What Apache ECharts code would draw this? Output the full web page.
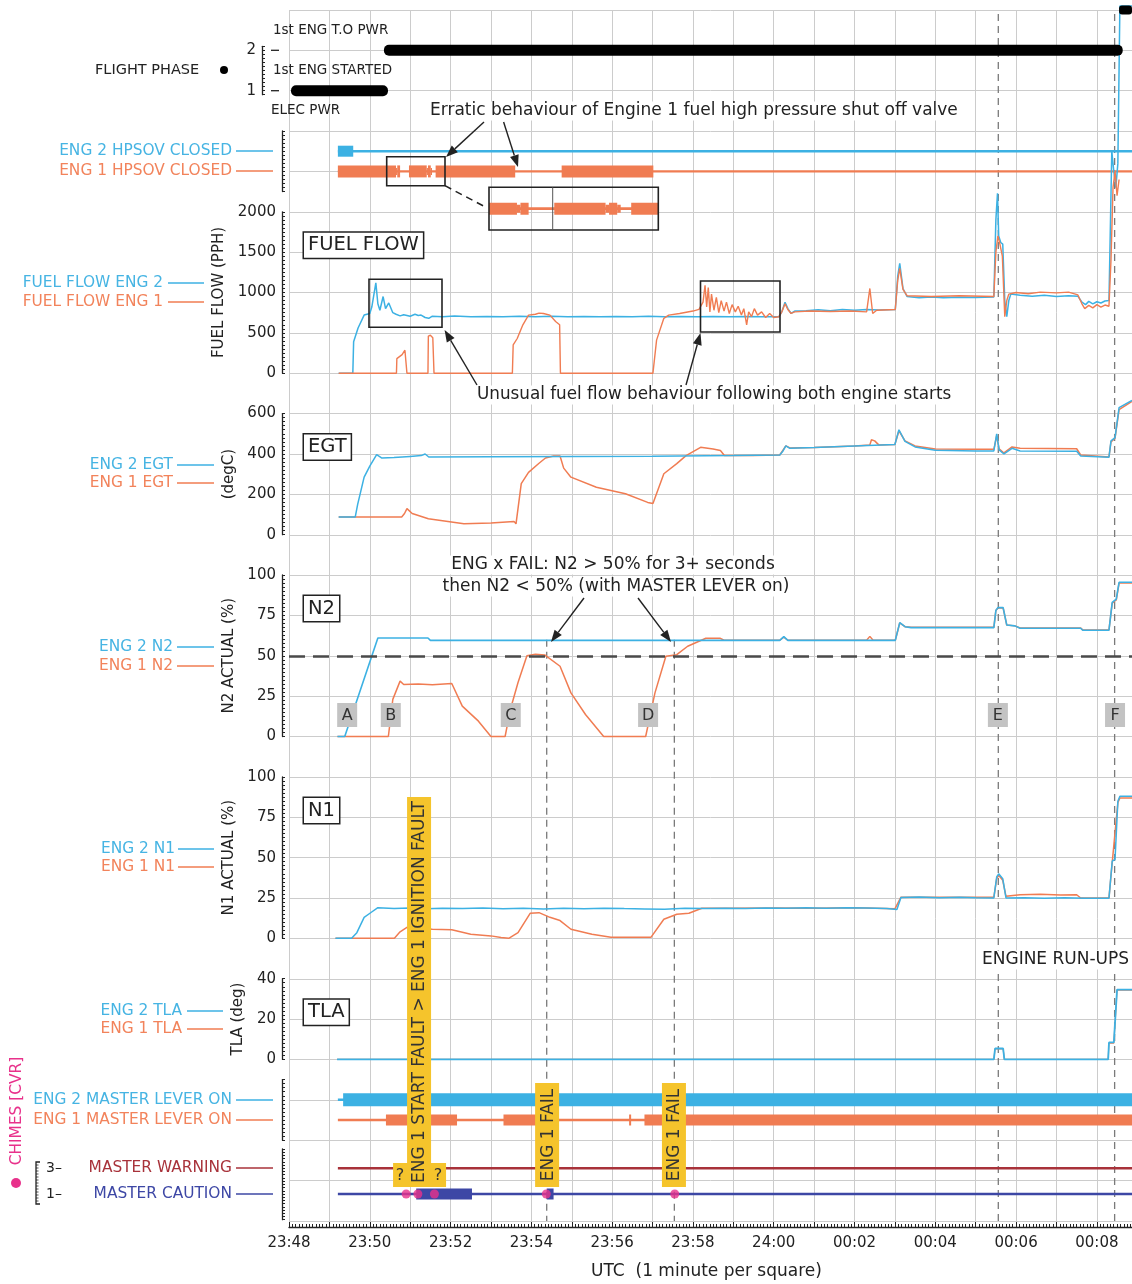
<!DOCTYPE html>
<html>
<head>
<meta charset="utf-8">
<script src="https://cdn.jsdelivr.net/npm/echarts@6.0.0/dist/echarts.min.js"></script>
<style>
  html, body { margin: 0; padding: 0; background: #fff; }
  #main { width: 1132px; height: 1284px; }
</style>
</head>
<body>
<div id="main"></div>
<script>
// time is in minutes after 23:48 UTC (1 minute per square)
const X_MAX = 20.87
const timeLabels = ['23:48', '23:50', '23:52', '23:54', '23:56', '23:58', '24:00', '00:02', '00:04', '00:06', '00:08']

// discrete tracks: [start, end] in minutes
const flightPhase = [[0.05, 2.45, 1], [2.35, 20.64, 2], [20.55, 20.87, 3]]
const trackSpan = [1.21, X_MAX]
const eng2HpsovClosed = [[1.21, 1.59]]
const eng1HpsovClosed = [[1.21, 2.65], [2.68, 2.75], [2.97, 3.41], [3.44, 3.51], [3.63, 5.6], [6.75, 9.02]]
const eng1HpsovPartial = [[2.65, 2.68], [3.41, 3.44], [3.51, 3.54]]
const insetRange = [2.41, 3.86]
const eng2LeverOn = [[1.34, X_MAX]]
const eng1LeverOn = [[2.40, 4.16], [5.31, 6.40], [8.42, 8.47], [8.80, X_MAX]]
const cautionOn = [[3.15, 4.53], [6.38, 6.55]]
const chimeTimes = [2.90, 3.19, 3.60, 6.37, 9.55]

// event markers
const eventNames = ['A', 'B', 'C', 'D', 'E', 'F']
const eventTimes = [1.44, 2.52, 5.49, 8.89, 17.55, 20.45]
const failLineTimes = [6.38, 9.54]
const runupLineTimes = [17.56, 20.44]
const faultTimes = [3.22, 6.39, 9.53]
const faultTexts = ['ENG 1 START FAULT > ENG 1 IGNITION FAULT', 'ENG 1 FAIL', 'ENG 1 FAIL']

// fuel flow (PPH)
const fuelEng2 = [[1.23, 0], [1.58, 0], [1.60, 390], [1.71, 560], [1.86, 720], [2.00, 740], [2.05, 820], [2.15, 1120], [2.20, 860], [2.25, 780], [2.33, 950], [2.39, 800], [2.47, 870], [2.57, 750], [2.65, 730], [2.75, 710], [2.84, 725], [2.92, 715], [3.00, 705], [3.12, 730], [3.20, 715], [3.27, 720], [3.37, 690], [3.46, 680], [3.54, 705], [3.8, 700], [4.1, 708], [4.5, 700], [4.9, 704], [5.3, 698], [5.7, 705], [6.1, 700], [6.5, 706], [6.9, 700], [7.3, 703], [7.7, 698], [8.1, 704], [8.5, 700], [8.9, 705], [9.3, 700], [9.7, 704], [10.1, 700], [10.5, 702], [10.9, 698], [11.3, 703], [11.7, 699], [12.13, 700], [12.20, 760], [12.28, 880], [12.35, 800], [12.43, 740], [12.52, 770], [12.8, 775], [13.1, 785], [13.4, 775], [13.7, 790], [14.0, 780], [14.3, 788], [14.6, 782], [15.01, 790], [15.07, 1200], [15.12, 1360], [15.2, 1050], [15.3, 950], [15.6, 935], [15.9, 945], [16.2, 935], [16.6, 942], [17.0, 938], [17.45, 945], [17.50, 1900], [17.54, 2230], [17.57, 1700], [17.62, 1620], [17.67, 1600], [17.72, 900], [17.77, 700], [17.82, 900], [17.87, 980], [18.1, 965], [18.4, 955], [18.7, 965], [19.0, 950], [19.3, 960], [19.53, 955], [19.63, 880], [19.72, 850], [19.8, 890], [19.9, 860], [20.0, 885], [20.1, 870], [20.2, 895], [20.30, 900], [20.37, 2750], [20.42, 2500], [20.47, 2300], [20.52, 2600], [20.57, 4550], [20.87, 4550]]
const fuelEng1 = [[1.23, 0], [2.66, 0], [2.67, 180], [2.80, 230], [2.87, 285], [2.90, 280], [2.92, 0], [3.44, 0], [3.45, 460], [3.50, 470], [3.56, 440], [3.59, 0], [5.53, 0], [5.55, 350], [5.65, 430], [5.79, 600], [5.93, 720], [6.10, 730], [6.19, 745], [6.30, 740], [6.46, 720], [6.60, 640], [6.70, 600], [6.72, 0], [9.01, 0], [9.10, 410], [9.28, 680], [9.40, 720], [9.67, 740], [10.0, 770], [10.15, 790], [10.25, 880], [10.30, 1090], [10.34, 820], [10.38, 1060], [10.42, 760], [10.46, 980], [10.52, 780], [10.58, 940], [10.64, 750], [10.70, 900], [10.77, 770], [10.83, 880], [10.90, 740], [10.97, 850], [11.05, 760], [11.12, 830], [11.20, 720], [11.26, 800], [11.33, 600], [11.38, 760], [11.45, 700], [11.52, 800], [11.60, 720], [11.70, 760], [11.80, 690], [11.90, 740], [12.00, 690], [12.13, 700], [12.20, 760], [12.28, 860], [12.35, 790], [12.43, 740], [12.52, 760], [12.9, 770], [13.4, 765], [13.9, 770], [14.30, 760], [14.38, 1050], [14.45, 740], [14.55, 780], [15.01, 790], [15.07, 1150], [15.12, 1300], [15.2, 1040], [15.3, 960], [15.9, 950], [16.6, 960], [17.45, 950], [17.50, 1500], [17.55, 1700], [17.60, 1600], [17.66, 1450], [17.72, 700], [17.77, 900], [17.82, 980], [18.0, 1000], [18.3, 985], [18.6, 1005], [19.0, 995], [19.3, 1005], [19.53, 970], [19.63, 860], [19.7, 800], [19.8, 840], [19.9, 810], [20.0, 850], [20.1, 820], [20.2, 845], [20.30, 830], [20.35, 1400], [20.40, 2300], [20.45, 2500], [20.50, 2200], [20.55, 2400]]

// EGT (degC)
const egtEng2 = [[1.23, 88], [1.64, 88], [1.70, 150], [1.86, 285], [2.00, 340], [2.17, 397], [2.30, 380], [2.6, 382], [3.0, 388], [3.27, 392], [3.37, 400], [3.46, 385], [5.0, 386], [7.0, 387], [9.0, 389], [11.0, 392], [12.15, 395], [12.22, 412], [12.30, 440], [12.40, 428], [13.0, 432], [14.0, 440], [15.0, 447], [15.10, 520], [15.25, 462], [15.5, 435], [16.0, 418], [17.0, 415], [17.45, 415], [17.52, 500], [17.58, 420], [17.70, 400], [17.9, 428], [18.1, 415], [19.5, 413], [19.6, 390], [20.3, 384], [20.35, 465], [20.45, 481], [20.55, 630], [20.87, 665]]
const egtEng1 = [[1.23, 88], [2.79, 88], [2.86, 105], [2.92, 129], [3.05, 105], [3.45, 79], [4.33, 54], [5.0, 58], [5.57, 66], [5.62, 54], [5.75, 253], [5.93, 309], [6.19, 354], [6.35, 380], [6.55, 390], [6.71, 390], [6.80, 330], [6.98, 285], [7.61, 235], [8.33, 203], [8.88, 160], [9.01, 155], [9.28, 302], [9.60, 352], [9.83, 392], [10.19, 433], [10.5, 425], [10.68, 417], [10.78, 392], [11.5, 393], [12.15, 395], [12.30, 440], [12.40, 430], [13.0, 432], [14.0, 440], [14.38, 445], [14.42, 470], [14.5, 465], [14.6, 445], [15.0, 447], [15.10, 515], [15.25, 465], [15.5, 440], [16.0, 425], [17.0, 423], [17.45, 423], [17.52, 490], [17.58, 425], [17.70, 405], [17.9, 435], [18.1, 428], [19.5, 426], [19.6, 395], [20.3, 385], [20.35, 460], [20.45, 478], [20.55, 620], [20.87, 660]]

// N2 (%)
const n2Eng2 = [[1.2, 0], [1.38, 0], [2.20, 61], [3.44, 61], [3.50, 59.5], [12.15, 59.5], [12.25, 61.8], [12.35, 59.5], [15.01, 59.5], [15.12, 70.5], [15.25, 68], [15.4, 67.4], [17.45, 67.4], [17.50, 78], [17.55, 79.8], [17.68, 79.8], [17.77, 69], [17.97, 68.5], [18.1, 67], [19.6, 67], [19.65, 65.8], [20.30, 65.8], [20.38, 83], [20.48, 85], [20.55, 95.5], [20.87, 95.5]]
const n2Eng1 = [[1.2, 0], [2.46, 0], [2.57, 23], [2.75, 34.3], [2.84, 32.2], [3.2, 32.5], [3.55, 32], [4.03, 32.8], [4.29, 18.8], [4.69, 9.5], [5.0, 0], [5.35, 0], [5.48, 16.7], [5.67, 33.4], [5.89, 50], [6.1, 51], [6.33, 50.5], [6.71, 43.5], [6.98, 27], [7.34, 13.6], [7.79, 0], [8.83, 0], [9.06, 27], [9.33, 49.7], [9.60, 50.7], [9.87, 55.9], [10.32, 60.8], [10.68, 60.8], [10.77, 59.6], [12.15, 59.6], [12.25, 61.5], [12.35, 59.6], [14.3, 59.6], [14.38, 62], [14.46, 59.6], [15.01, 59.6], [15.12, 70.3], [15.25, 68], [15.4, 67.6], [17.45, 67.6], [17.50, 78], [17.55, 79.5], [17.68, 79.5], [17.77, 69], [17.97, 68.5], [18.1, 67.2], [19.6, 67.2], [19.65, 66], [20.30, 66], [20.38, 82.5], [20.48, 84.5], [20.55, 95], [20.87, 95]]

// N1 (%)
const n1Eng2 = [[1.15, 0], [1.55, 0], [1.68, 3.5], [1.86, 13], [2.03, 16], [2.20, 19], [2.6, 18.4], [3.0, 18.8], [3.4, 18.3], [3.8, 18.7], [4.3, 18.4], [4.8, 18.8], [5.3, 18.3], [5.8, 18.7], [6.3, 18.2], [6.8, 18.6], [7.3, 18.3], [7.8, 18.7], [8.3, 18.4], [8.8, 18.2], [9.3, 18.0], [9.8, 18.6], [10.3, 18.5], [10.8, 18.7], [11.3, 18.5], [11.8, 18.8], [12.3, 18.6], [12.8, 18.9], [13.3, 18.7], [13.8, 19.0], [14.3, 18.8], [14.8, 18.5], [15.05, 17.9], [15.15, 25.3], [15.6, 25.6], [16.1, 25.2], [16.6, 25.4], [17.0, 25.1], [17.45, 25], [17.52, 38], [17.57, 40], [17.62, 38.5], [17.67, 37], [17.75, 25], [18.2, 25.2], [18.7, 24.9], [19.2, 25.1], [19.7, 24.9], [20.30, 24.9], [20.38, 47.8], [20.45, 49], [20.52, 85], [20.57, 88], [20.87, 88]]
const n1Eng1 = [[1.15, 0], [2.61, 0], [2.75, 4], [2.92, 6.8], [3.1, 6.2], [3.55, 5.6], [4.03, 5.3], [4.5, 2.5], [5.0, 1.5], [5.25, 0.5], [5.44, 0], [5.67, 3.5], [5.97, 15.5], [6.19, 15.9], [6.46, 13], [6.71, 11], [6.98, 5.6], [7.5, 2.5], [7.97, 0.6], [8.96, 0.6], [9.28, 11.8], [9.6, 14.9], [9.9, 15.5], [10.22, 18.6], [11.0, 18.6], [12.0, 18.8], [13.0, 18.7], [14.0, 18.9], [15.0, 18.3], [15.15, 25.5], [17.45, 25.5], [17.52, 37], [17.57, 39], [17.67, 36], [17.75, 26], [18.1, 27], [18.6, 27.3], [19.1, 26.8], [19.5, 27], [19.6, 25], [20.30, 25], [20.38, 47], [20.52, 84], [20.57, 87], [20.87, 87]]

// TLA (deg)
const tlaEng2 = [[1.19, 0], [17.45, 0], [17.48, 5.4], [17.68, 5.4], [17.71, 0], [20.28, 0], [20.30, 8.4], [20.42, 8.4], [20.50, 34.6], [20.87, 34.6]]
const tlaEng1 = [[1.19, 0], [17.45, 0], [17.48, 5.2], [17.68, 5.2], [17.71, 0], [20.28, 0], [20.30, 8], [20.42, 8], [20.50, 34.3], [20.87, 34.3]]

const BLUE = '#3cb1e3'
const ORANGE = '#f07c52'
const BLUE_TXT = '#46b4e3'
const ORANGE_TXT = '#f2835b'
const INK = '#222222'
const WARN = '#a8323a'
const CAUTION = '#3d47a5'
const PINK = '#e8318b'
const YELLOW = '#f5c42c'
const FAMILY = 'DejaVu Sans'

const chart = echarts.init(document.getElementById('main'))

// panel layout (pixel boxes of each strip)
const gridBoxes = [
  { top: 10, height: 1211 },      // 0 background squares + time axis
  { top: 46.3, height: 48.4 },    // 1 flight phase
  { top: 131, height: 60.6 },     // 2 HPSOV
  { top: 211.8, height: 161.4 },  // 3 fuel flow
  { top: 413.6, height: 121.1 },  // 4 EGT
  { top: 575, height: 161.5 },    // 5 N2
  { top: 777, height: 161.3 },    // 6 N1
  { top: 978.7, height: 80.7 },   // 7 TLA
  { top: 1079.6, height: 60.6 },  // 8 master levers
  { top: 1149, height: 70.7 },    // 9 warning / caution
  { left: 489, top: 187.3, width: 169, height: 42.7 } // 10 HPSOV inset
]
const grids = gridBoxes.map(b => ({
  left: b.left || 289, top: b.top, height: b.height, width: b.width || 843,
  containLabel: false, outerBoundsMode: 'none'
}))

function isStep(v, step) {
  const k = v / step
  return Math.abs(k - Math.round(k)) < 1e-6
}

const xAxes = grids.map((g, i) => ({
  type: 'value', gridIndex: i,
  min: i === 10 ? insetRange[0] : 0,
  max: i === 10 ? insetRange[1] : X_MAX,
  show: false
}))
xAxes[0] = {
  type: 'value', gridIndex: 0, min: 0, max: X_MAX, interval: 1, position: 'bottom', offset: 6,
  axisLine: { show: true, onZero: false, lineStyle: { color: INK, width: 1.3 } },
  axisTick: { show: true, inside: true, length: 5, lineStyle: { color: INK } },
  minorTick: { show: true, splitNumber: 12, length: 3, lineStyle: { color: INK } },
  axisLabel: {
    color: INK, fontSize: 15, fontFamily: FAMILY, margin: 9,
    formatter: v => (isStep(v, 2) && v <= 20.01) ? timeLabels[Math.round(v / 2)] : ''
  },
  splitLine: { show: true, lineStyle: { color: '#cccccc', width: 1 } }
}

function panelAxis(gridIndex, min, max, interval, labelStep, name, nameGap, offset) {
  return {
    type: 'value', gridIndex, min, max, interval, offset: offset || 7,
    axisLine: { show: true, onZero: false, lineStyle: { color: INK, width: 1.3 } },
    axisTick: { show: true, inside: true, length: 3, lineStyle: { color: INK, width: 1 } },
    axisLabel: {
      show: !!labelStep, margin: 6, color: INK, fontSize: 15, fontFamily: FAMILY,
      formatter: v => (labelStep && isStep(v, labelStep)) ? String(Math.round(v)) : ''
    },
    splitLine: { show: false },
    name: name || '', nameLocation: 'middle', nameGap: nameGap || 0, nameRotate: 90,
    nameTextStyle: { color: INK, fontSize: 15, fontFamily: FAMILY }
  }
}

const yAxes = [
  {
    type: 'value', gridIndex: 0, min: 0, max: 30, interval: 1,
    axisLine: { show: false }, axisTick: { show: false }, axisLabel: { show: false },
    splitLine: { show: true, lineStyle: { color: '#cccccc', width: 1 } }
  },
  panelAxis(1, 0.9, 2.1, 0.1, 1, '', 0, 27),
  panelAxis(2, 0, 3, 0.2, 0),
  panelAxis(3, 0, 2000, 50, 500, 'FUEL FLOW (PPH)', 53),
  panelAxis(4, 0, 600, 20, 200, '(degC)', 45),
  panelAxis(5, 0, 100, 2.5, 25, 'N2 ACTUAL (%)', 45),
  panelAxis(6, 0, 100, 2.5, 25, 'N1 ACTUAL (%)', 45),
  panelAxis(7, 0, 40, 2, 20, 'TLA (deg)', 35),
  panelAxis(8, 0, 3, 0.2, 0),
  panelAxis(9, -1, 4.5, 0.25, 0),
  { type: 'value', gridIndex: 10, min: 0, max: 2, show: false }
]

function lineSeries(grid, data, color, width, z, clip) {
  return {
    type: 'line', xAxisIndex: grid, yAxisIndex: grid, data, symbol: 'none', showSymbol: false,
    clip: !!clip, animation: false, silent: true, z: z || 4,
    lineStyle: { color, width: width || 1.5 }, itemStyle: { color }
  }
}

function barSeries(grid, spans, level, color, thick, radius, clip) {
  return {
    type: 'custom', xAxisIndex: grid, yAxisIndex: grid, clip: !!clip, animation: false, silent: true, z: 5,
    data: spans.map(s => [s[0], s[1], level]),
    encode: { x: [0, 1], y: 2 },
    renderItem: (params, api) => {
      const a = api.coord([api.value(0), api.value(2)])
      const b = api.coord([api.value(1), api.value(2)])
      return {
        type: 'rect',
        shape: { x: a[0], y: a[1] - thick / 2, width: b[0] - a[0], height: thick, r: radius || 0 },
        style: { fill: color }
      }
    }
  }
}

function eventLines(times, fromY) {
  return {
    type: 'custom', xAxisIndex: 0, yAxisIndex: 0, animation: false, silent: true, z: 3,
    data: times.map(t => [t, fromY]),
    renderItem: (params, api) => {
      const a = api.coord([api.value(0), api.value(1)])
      const b = api.coord([api.value(0), 0])
      return {
        type: 'line',
        shape: { x1: a[0], y1: a[1], x2: b[0], y2: b[1] },
        style: { stroke: '#7a7a7a', lineWidth: 1.3, lineDash: [7, 5] }
      }
    }
  }
}

const series = [
  eventLines(failLineTimes, 14.4),
  eventLines(runupLineTimes, 29.9),

  // flight phase
  barSeries(1, flightPhase.map(p => [p[0], p[1]]).slice(0, 1), 1, '#000', 11, 5),
  barSeries(1, flightPhase.map(p => [p[0], p[1]]).slice(1, 2), 2, '#000', 11, 5),
  barSeries(1, flightPhase.map(p => [p[0], p[1]]).slice(2), 3, '#000', 9, 3),

  // HPSOV
  lineSeries(2, [[trackSpan[0], 2], [trackSpan[1], 2]], BLUE, 2.6),
  barSeries(2, eng2HpsovClosed, 2, BLUE, 11),
  lineSeries(2, [[trackSpan[0], 1], [trackSpan[1], 1]], ORANGE, 2.4),
  barSeries(2, eng1HpsovClosed, 1, ORANGE, 12),
  barSeries(2, eng1HpsovPartial, 1, ORANGE, 7),

  // HPSOV inset (magnified)
  lineSeries(10, [[insetRange[0], 1], [insetRange[1], 1]], ORANGE, 2.6, 4, true),
  barSeries(10, eng1HpsovClosed, 1, ORANGE, 12, 0, true),
  barSeries(10, eng1HpsovPartial, 1, ORANGE, 8, 0, true),

  // fuel flow
  lineSeries(3, fuelEng2, BLUE, 1.5),
  lineSeries(3, fuelEng1, ORANGE, 1.4),

  // EGT
  lineSeries(4, egtEng1, ORANGE, 1.5),
  lineSeries(4, egtEng2, BLUE, 1.5),

  // N2
  lineSeries(5, n2Eng1, ORANGE, 1.5),
  Object.assign(lineSeries(5, n2Eng2, BLUE, 1.6), {
    markLine: {
      silent: true, symbol: ['none', 'none'], animation: false,
      label: { show: false },
      lineStyle: { color: '#4a4a4a', width: 2.6, type: [16, 8] },
      data: [{ yAxis: 50 }]
    }
  }),

  // N1
  lineSeries(6, n1Eng1, ORANGE, 1.5),
  lineSeries(6, n1Eng2, BLUE, 1.5),

  // TLA
  lineSeries(7, tlaEng1, ORANGE, 1.2),
  lineSeries(7, tlaEng2, BLUE, 1.8),

  // master levers
  lineSeries(8, [[trackSpan[0], 2], [trackSpan[1], 2]], BLUE, 2.6),
  barSeries(8, eng2LeverOn, 2, BLUE, 13),
  lineSeries(8, [[trackSpan[0], 1], [trackSpan[1], 1]], ORANGE, 2.4),
  barSeries(8, eng1LeverOn, 1, ORANGE, 11),

  // master warning / caution + chimes
  lineSeries(9, [[trackSpan[0], 3], [trackSpan[1], 3]], WARN, 2.4),
  lineSeries(9, [[trackSpan[0], 1], [trackSpan[1], 1]], CAUTION, 2.6),
  barSeries(9, cautionOn, 1, CAUTION, 11),
  {
    type: 'scatter', xAxisIndex: 9, yAxisIndex: 9, animation: false, silent: true, z: 8,
    symbol: 'circle', symbolSize: 9, itemStyle: { color: PINK },
    data: chimeTimes.map(t => [t, 1])
  }
]

chart.setOption({
  backgroundColor: '#fff',
  animation: false,
  grid: grids,
  xAxis: xAxes,
  yAxis: yAxes,
  series
})

// ---------- annotations ----------
const g = []
const font = (size) => size + 'px "' + FAMILY + '"'

function txt(x, y, text, opt) {
  opt = opt || {}
  const align = opt.align || 'left'
  const style = {
    text, x: 0, y: 0, font: font(opt.size || 15), fill: opt.color || INK,
    align, textAlign: align, verticalAlign: 'middle', textVerticalAlign: 'middle'
  }
  if (opt.bg) {
    style.backgroundColor = opt.bg
    style.padding = opt.padding || [1, 3]
  }
  if (opt.border) {
    style.borderColor = opt.border
    style.borderWidth = 1.5
  }
  g.push({ type: 'text', x, y, rotation: opt.rotation || 0, z: opt.z || 30, style })
}
function line(x1, y1, x2, y2, color, width, dash) {
  g.push({
    type: 'line', z: 30, shape: { x1, y1, x2, y2 },
    style: { stroke: color || INK, lineWidth: width || 1.5, lineDash: dash || null }
  })
}
function box(x1, y1, x2, y2) {
  g.push({
    type: 'rect', z: 30, shape: { x: x1, y: y1, width: x2 - x1, height: y2 - y1 },
    style: { fill: 'none', stroke: INK, lineWidth: 1.6 }
  })
}
function arrow(x1, y1, x2, y2) {
  const ang = Math.atan2(y2 - y1, x2 - x1)
  const L = 12, W = 4.5
  const bx = x2 - L * Math.cos(ang), by = y2 - L * Math.sin(ang)
  line(x1, y1, bx, by, INK, 1.4)
  g.push({
    type: 'polygon', z: 31,
    shape: { points: [[x2, y2], [bx + W * Math.sin(ang), by - W * Math.cos(ang)], [bx - W * Math.sin(ang), by + W * Math.cos(ang)]] },
    style: { fill: INK }
  })
}
function legendItem(text, color, txtColor, right, y, l1, l2) {
  txt(right, y, text, { align: 'right', color: txtColor, size: 15.4 })
  line(l1, y, l2, y, color, 1.5)
}

// flight phase labels
txt(95, 70, 'FLIGHT PHASE', { size: 14.5 })
g.push({ type: 'circle', z: 30, shape: { cx: 224, cy: 70, r: 4 }, style: { fill: '#000' } })
txt(273, 30, '1st ENG T.O PWR', { size: 13.5 })
txt(273, 70, '1st ENG STARTED', { size: 13.5 })
txt(271, 110, 'ELEC PWR', { size: 13.5 })
line(271, 50.3, 279, 50.3, INK, 1.3)
line(271, 90.7, 279, 90.7, INK, 1.3)

// legends
legendItem('ENG 2 HPSOV CLOSED', BLUE, BLUE_TXT, 232, 151, 236, 273)
legendItem('ENG 1 HPSOV CLOSED', ORANGE, ORANGE_TXT, 232, 171, 236, 273)
legendItem('FUEL FLOW ENG 2', BLUE, BLUE_TXT, 163, 283, 168, 204)
legendItem('FUEL FLOW ENG 1', ORANGE, ORANGE_TXT, 163, 302, 168, 204)
legendItem('ENG 2 EGT', BLUE, BLUE_TXT, 173, 465, 177, 214)
legendItem('ENG 1 EGT', ORANGE, ORANGE_TXT, 173, 483, 177, 214)
legendItem('ENG 2 N2', BLUE, BLUE_TXT, 173, 647, 177, 214)
legendItem('ENG 1 N2', ORANGE, ORANGE_TXT, 173, 666, 177, 214)
legendItem('ENG 2 N1', BLUE, BLUE_TXT, 175, 849, 178, 214)
legendItem('ENG 1 N1', ORANGE, ORANGE_TXT, 175, 867, 178, 214)
legendItem('ENG 2 TLA', BLUE, BLUE_TXT, 182, 1011, 187, 223)
legendItem('ENG 1 TLA', ORANGE, ORANGE_TXT, 182, 1029, 187, 223)
legendItem('ENG 2 MASTER LEVER ON', BLUE, BLUE_TXT, 232, 1100, 236, 273)
legendItem('ENG 1 MASTER LEVER ON', ORANGE, ORANGE_TXT, 232, 1120, 236, 273)
legendItem('MASTER WARNING', WARN, WARN, 232, 1168, 236, 273)
legendItem('MASTER CAUTION', CAUTION, CAUTION, 232, 1194, 236, 273)

// chimes key
txt(17, 1111, 'CHIMES [CVR]', { color: PINK, size: 15.4, align: 'center', rotation: Math.PI / 2 })
g.push({ type: 'circle', z: 30, shape: { cx: 16, cy: 1183, r: 5 }, style: { fill: PINK } })
g.push({
  type: 'polyline', z: 30, shape: { points: [[40, 1162], [36, 1162], [36, 1204], [40, 1204]] },
  style: { stroke: INK, lineWidth: 1.3, fill: null }
})
for (let y = 1165; y < 1204; y += 3) line(36, y, 38.5, y, INK, 0.8)
txt(46, 1168, '3–', { size: 14 })
txt(46, 1194, '1–', { size: 14 })

// panel title boxes
const panelTitles = [['FUEL FLOW', 3], ['EGT', 4], ['N2', 5], ['N1', 6], ['TLA', 7]]
panelTitles.forEach(p => {
  txt(304, gridBoxes[p[1]].top + 33.5, p[0], { size: 19.5, bg: '#fff', border: INK, padding: [3, 4, 2, 4] })
})

// HPSOV annotation
txt(427, 111, 'Erratic behaviour of Engine 1 fuel high pressure shut off valve', { size: 17, bg: '#fff', padding: [1, 3] })
box(386.7, 156.7, 445, 185.7)
box(489, 187.3, 658.3, 230)
line(552.7, 187.3, 552.7, 230, '#555', 1)
line(445, 185.7, 486.7, 207.7, INK, 1.5, [7, 5])
arrow(484, 122, 446, 157)
arrow(503.6, 122, 518, 167)

// fuel flow annotation
box(369, 279.3, 442, 327.3)
box(700.5, 281, 780, 332)
txt(474, 395, 'Unusual fuel flow behaviour following both engine starts', { size: 16.8, bg: '#fff', padding: [1, 3] })
arrow(477, 385, 444.6, 330)
arrow(686, 385, 700.5, 333)

// N2 annotation
txt(613, 565, 'ENG x FAIL: N2 > 50% for 3+ seconds', { size: 17, align: 'center', bg: '#fff', padding: [1, 3] })
txt(616, 587, 'then N2 < 50% (with MASTER LEVER on)', { size: 17, align: 'center', bg: '#fff', padding: [1, 3] })
arrow(584, 598, 551, 642)
arrow(638, 598, 671, 642)

txt(980, 960, 'ENGINE RUN-UPS', { size: 17, bg: '#fff', padding: [1, 2] })
txt(591, 1272, 'UTC  (1 minute per square)', { size: 17 })

// event letters, placed through the N2 scale
eventNames.forEach((name, i) => {
  const p = chart.convertToPixel({ gridIndex: 5 }, [eventTimes[i], 13.3])
  g.push({
    type: 'rect', z: 32, shape: { x: p[0] - 10, y: p[1] - 12, width: 20, height: 24 },
    style: { fill: '#c3c3c3' }
  })
  txt(p[0], p[1] + 1, name, { align: 'center', size: 16, color: '#333', z: 33 })
})

// yellow fault labels
faultTimes.forEach((t, i) => {
  const cx = chart.convertToPixel({ gridIndex: 0 }, [t, 0])[0]
  if (i === 0) {
    g.push({ type: 'rect', z: 40, shape: { x: cx - 12, y: 797, width: 24, height: 366 }, style: { fill: YELLOW } })
    g.push({ type: 'rect', z: 40, shape: { x: cx - 26, y: 1163, width: 53, height: 24 }, style: { fill: YELLOW } })
    txt(cx + 1, 992, faultTexts[i], { align: 'center', size: 17, color: '#333', rotation: Math.PI / 2, z: 41 })
    txt(cx - 19, 1176, '?', { align: 'center', size: 16, color: '#333', z: 41 })
    txt(cx + 19, 1176, '?', { align: 'center', size: 16, color: '#333', z: 41 })
  } else {
    g.push({ type: 'rect', z: 40, shape: { x: cx - 12, y: 1083, width: 24, height: 104 }, style: { fill: YELLOW } })
    txt(cx + 1, 1135, faultTexts[i], { align: 'center', size: 17, color: '#333', rotation: Math.PI / 2, z: 41 })
  }
})

chart.setOption({ graphic: { elements: g } })
window.onresize = () => chart.resize()
</script>
</body>
</html>
